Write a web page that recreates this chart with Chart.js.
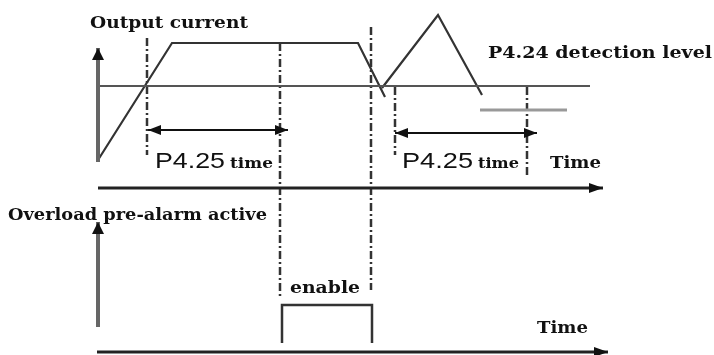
<!DOCTYPE html>
<html>
<head>
<meta charset="utf-8">
<script src="https://cdn.jsdelivr.net/npm/chart.js@4/dist/chart.umd.min.js"></script>
<style>
html,body{margin:0;padding:0;background:#fff;}
canvas{display:block;}
</style>
</head>
<body>
<canvas id="c" width="714" height="355"></canvas>
<script>
// ---- data (time units horizontally, signal level vertically) ----
const riseTime = [98, 172, 358, 385];
const riseLevel = [195, 312, 312, 258];
const rippleTime = [382, 438, 482];
const rippleLevel = [267, 340, 260];
const detectTime = [98, 590];
const detectLevel = 269;
const lowTime = [480, 567];
const lowLevel = 245;
const pulseTime = [282, 282, 372, 372];
const pulseLevel = [12, 50, 50, 12];
const markerTime = [147, 280, 371, 395, 527];
const markerTop = [317, 312, 328, 268, 268];
const markerBottom = [200, 58, 65, 200, 180];
const spanStart = [148, 395];
const spanEnd = [288, 537];
const spanLevel = [225, 222];
const currentAxisLevel = [193, 307];
const alarmAxisLevel = [28, 133];
const axisStart = 98;
const timeAxisEnd = [603, 608];
const timeAxisLevel = [167, 3];

// ---- text labels ----
const serif = '"DejaVu Serif"';
const labels = [
  {text: 'Output current', x: 90, y: 327, font: 'bold 17px ' + serif, w: 158},
  {text: 'P4.24 detection level', x: 488, y: 297, font: 'bold 17px ' + serif, w: 224},
  {text: 'P4.25', x: 155, y: 187, font: '22px "Liberation Sans"', w: 70},
  {text: 'time', x: 230, y: 187, font: 'bold 15px ' + serif, w: 43},
  {text: 'P4.25', x: 402, y: 187, font: '22px "Liberation Sans"', w: 71},
  {text: 'time', x: 478, y: 187, font: 'bold 15px ' + serif, w: 41},
  {text: 'Time', x: 550, y: 187, font: 'bold 17px ' + serif, w: 51},
  {text: 'Overload pre-alarm active', x: 8, y: 135, font: 'bold 16px ' + serif, w: 259},
  {text: 'enable', x: 290, y: 62, font: 'bold 17px ' + serif, w: 70},
  {text: 'Time', x: 537, y: 22, font: 'bold 17px ' + serif, w: 51}
];

const pts = (xs, ys) => xs.map((x, i) => ({x, y: Array.isArray(ys) ? ys[i] : ys}));

const datasets = [];
function line(data, color, width, extra) {
  datasets.push(Object.assign({data, showLine: true, borderColor: color, backgroundColor: color,
    borderWidth: width, pointRadius: 0, fill: false, tension: 0}, extra || {}));
}
// axes
line([{x: axisStart, y: currentAxisLevel[0]}, {x: axisStart, y: currentAxisLevel[1]}], '#666', 4, {arrow: 'end', headColor: '#111', head: [12, 12]});
line([{x: axisStart, y: alarmAxisLevel[0]}, {x: axisStart, y: alarmAxisLevel[1]}], '#666', 4, {arrow: 'end', headColor: '#111', head: [12, 12]});
line([{x: axisStart, y: timeAxisLevel[0]}, {x: timeAxisEnd[0], y: timeAxisLevel[0]}], '#222', 3, {arrow: 'end', headColor: '#111', head: [14, 10]});
line([{x: axisStart - 1, y: timeAxisLevel[1]}, {x: timeAxisEnd[1], y: timeAxisLevel[1]}], '#222', 3, {arrow: 'end', headColor: '#111', head: [14, 10]});
// detection level and low level
line(pts(detectTime, detectLevel), '#555', 2);
line(pts(lowTime, lowLevel), '#999', 3);
// current waveform
line(pts(riseTime, riseLevel), '#333', 2.2);
line(pts(rippleTime, rippleLevel), '#333', 2.2);
// marker lines
markerTime.forEach((t, i) => {
  line([{x: t, y: markerTop[i]}, {x: t, y: markerBottom[i]}], '#333', 2.5, {borderDash: [8, 3, 2, 3]});
});
// P4.25 spans
spanStart.forEach((s, i) => {
  line([{x: s, y: spanLevel[i]}, {x: spanEnd[i], y: spanLevel[i]}], '#111', 2, {arrow: 'both', headColor: '#111', head: [13, 10]});
});
// enable pulse
line(pts(pulseTime, pulseLevel), '#333', 2.5);

const arrowPlugin = {
  id: 'arrows',
  afterDatasetsDraw(chart) {
    const ctx = chart.ctx;
    chart.data.datasets.forEach((ds, i) => {
      if (!ds.arrow) return;
      const el = chart.getDatasetMeta(i).data;
      const draw = (tip, from) => {
        const a = Math.atan2(tip.y - from.y, tip.x - from.x);
        const [len, wid] = ds.head;
        ctx.save();
        ctx.translate(tip.x, tip.y);
        ctx.rotate(a);
        ctx.fillStyle = ds.headColor;
        ctx.beginPath();
        ctx.moveTo(0, 0);
        ctx.lineTo(-len, -wid / 2);
        ctx.lineTo(-len, wid / 2);
        ctx.closePath();
        ctx.fill();
        ctx.restore();
      };
      const n = el.length;
      draw(el[n - 1], el[n - 2]);
      if (ds.arrow === 'both') draw(el[0], el[1]);
    });
  }
};

const textPlugin = {
  id: 'texts',
  afterDraw(chart) {
    const ctx = chart.ctx;
    const sx = chart.scales.x, sy = chart.scales.y;
    labels.forEach(l => {
      ctx.save();
      ctx.font = l.font;
      ctx.fillStyle = '#111';
      ctx.textBaseline = 'alphabetic';
      const m = ctx.measureText(l.text).width;
      const k = l.w / m;
      ctx.translate(sx.getPixelForValue(l.x), sy.getPixelForValue(l.y));
      ctx.scale(k, 1);
      ctx.fillText(l.text, 0, 0);
      ctx.restore();
    });
  }
};

new Chart(document.getElementById('c'), {
  type: 'scatter',
  data: {datasets},
  options: {
    responsive: false,
    animation: false,
    devicePixelRatio: 1,
    events: [],
    layout: {padding: 0},
    plugins: {legend: {display: false}, tooltip: {enabled: false}},
    scales: {
      x: {type: 'linear', min: 0, max: 714, display: false},
      y: {type: 'linear', min: 0, max: 355, display: false}
    }
  },
  plugins: [arrowPlugin, textPlugin]
});
</script>
</body>
</html>
